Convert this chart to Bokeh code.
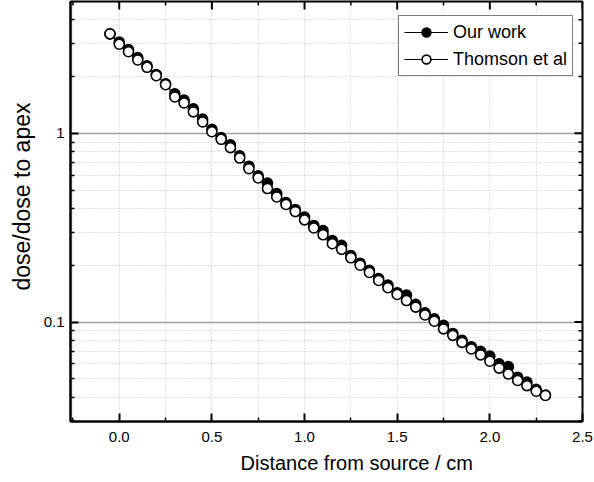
import math
from bokeh.plotting import figure
from bokeh.models import (FixedTicker, Range1d, CustomJSTickFormatter,
                          NumeralTickFormatter, Legend, LegendItem, Title)
from bokeh.embed import file_html
from bokeh.resources import INLINE

distance = [-0.05, 0.00, 0.05, 0.10, 0.15, 0.20, 0.25, 0.30, 0.35, 0.40, 0.45, 0.50,
            0.55, 0.60, 0.65, 0.70, 0.75, 0.80, 0.85, 0.90, 0.95, 1.00, 1.05, 1.10,
            1.15, 1.20, 1.25, 1.30, 1.35, 1.40, 1.45, 1.50, 1.55, 1.60, 1.65, 1.70,
            1.75, 1.80, 1.85, 1.90, 1.95, 2.00, 2.05, 2.10, 2.15, 2.20, 2.25, 2.30]

our_work = [3.37, 3.05, 2.78, 2.52, 2.28, 2.05, 1.83, 1.62, 1.50, 1.35, 1.19, 1.05,
            0.95, 0.87, 0.76, 0.67, 0.595, 0.545, 0.48, 0.43, 0.395, 0.36, 0.325, 0.305,
            0.27, 0.255, 0.225, 0.205, 0.188, 0.17, 0.157, 0.143, 0.139, 0.124, 0.112, 0.104,
            0.096, 0.087, 0.080, 0.074, 0.070, 0.066, 0.060, 0.058, 0.051, 0.048, 0.044, 0.041]

thomson = [3.37, 2.97, 2.71, 2.45, 2.24, 2.02, 1.81, 1.56, 1.45, 1.30, 1.15, 1.02,
           0.93, 0.84, 0.74, 0.65, 0.58, 0.51, 0.46, 0.42, 0.385, 0.348, 0.315, 0.29,
           0.26, 0.243, 0.219, 0.200, 0.183, 0.166, 0.152, 0.140, 0.130, 0.120, 0.109, 0.101,
           0.092, 0.085, 0.078, 0.072, 0.067, 0.062, 0.057, 0.053, 0.049, 0.046, 0.043, 0.0408]

x_major = [0.0, 0.5, 1.0, 1.5, 2.0, 2.5]
x_minor = [-0.25, 0.25, 0.75, 1.25, 1.75, 2.25]
y_major = [0.1, 1]
y_minor = [0.03, 0.04, 0.05, 0.06, 0.07, 0.08, 0.09,
           0.2, 0.3, 0.4, 0.5, 0.6, 0.7, 0.8, 0.9, 2, 3, 4]

FONT = "Liberation Sans"
x_lo, x_hi = -0.263, 2.5
y_lo, y_hi = 0.0297, 5.0

p = figure(width=594, height=482, output_backend="svg", toolbar_location=None,
           y_axis_type="log", x_range=Range1d(x_lo, x_hi), y_range=Range1d(y_lo, y_hi),
           min_border_left=67, min_border_right=12, min_border_top=1, min_border_bottom=61)

xt = FixedTicker(ticks=x_major, minor_ticks=x_minor)
yt = FixedTicker(ticks=y_major, minor_ticks=y_minor)

def style_axis(ax):
    ax.axis_line_color = "black"
    ax.axis_line_width = 2
    ax.major_tick_in = 8
    ax.major_tick_out = 0
    ax.minor_tick_in = 4
    ax.minor_tick_out = 0
    ax.major_tick_line_width = 2
    ax.minor_tick_line_width = 1.5
    ax.major_tick_line_color = "black"
    ax.minor_tick_line_color = "black"
    ax.major_label_text_font = FONT
    ax.major_label_text_font_size = "15px"
    ax.major_label_text_color = "black"
    ax.axis_label_standoff = 0

xa = p.xaxis[0]
xa.ticker = xt
xa.formatter = NumeralTickFormatter(format="0.0")
xa.major_label_standoff = 10
style_axis(xa)

ya = p.yaxis[0]
ya.ticker = yt
ya.formatter = CustomJSTickFormatter(code="return String(tick);")
ya.major_label_standoff = 6
style_axis(ya)

xtitle = Title(text="Distance from source / cm", align="left", offset=170,
               text_font=FONT, text_font_size="20px", text_font_style="normal",
               text_color="black", standoff=10)
p.add_layout(xtitle, "below")

ytitle = Title(text="dose/dose to apex", align="left", offset=131,
               text_font=FONT, text_font_size="23px", text_font_style="normal",
               text_color="black", standoff=12)
p.add_layout(ytitle, "left")

# mirrored inward ticks on the top and right frame edges
p.ray(x=x_major, y=[y_hi] * len(x_major), length=8, length_units="screen",
      angle=-math.pi / 2, line_color="black", line_width=2)
p.ray(x=x_minor, y=[y_hi] * len(x_minor), length=4, length_units="screen",
      angle=-math.pi / 2, line_color="black", line_width=1.5)
p.ray(x=[x_hi] * len(y_major), y=y_major, length=8, length_units="screen",
      angle=math.pi, line_color="black", line_width=2)
p.ray(x=[x_hi] * len(y_minor), y=y_minor, length=4, length_units="screen",
      angle=math.pi, line_color="black", line_width=1.5)

p.xgrid.ticker = xt
p.xgrid.grid_line_color = "#c4c4c4"
p.xgrid.grid_line_dash = "1 2"
p.xgrid.grid_line_width = 1
p.xgrid.minor_grid_line_color = "#c4c4c4"
p.xgrid.minor_grid_line_dash = "1 2"
p.ygrid.ticker = yt
p.ygrid.grid_line_color = "#a0a0a0"
p.ygrid.grid_line_width = 1.5
p.ygrid.minor_grid_line_color = "#c4c4c4"
p.ygrid.minor_grid_line_dash = "1 2"

p.outline_line_color = "black"
p.outline_line_width = 2
p.background_fill_color = "white"
p.border_fill_color = "white"

l1 = p.line(distance, our_work, line_color="black", line_width=1)
s1 = p.scatter(distance, our_work, marker="circle", size=10, fill_color="black",
               line_color="black", line_width=1.6)
l2 = p.line(distance, thomson, line_color="black", line_width=1)
s2 = p.scatter(distance, thomson, marker="circle", size=10, fill_color="white",
               line_color="black", line_width=1.6)

legend = Legend(items=[LegendItem(label="Our work", renderers=[l1, s1]),
                       LegendItem(label="Thomson et al", renderers=[l2, s2])],
                location=(328, 345))
legend.border_line_color = "black"
legend.border_line_width = 1
legend.background_fill_color = "white"
legend.background_fill_alpha = 1
legend.label_text_font = FONT
legend.label_text_font_size = "18px"
legend.label_text_color = "black"
legend.glyph_width = 44
legend.glyph_height = 22
legend.label_standoff = 5
legend.padding = 5
legend.spacing = 5
legend.margin = 0
p.add_layout(legend)

open("out.html", "w").write(file_html(p, INLINE))
